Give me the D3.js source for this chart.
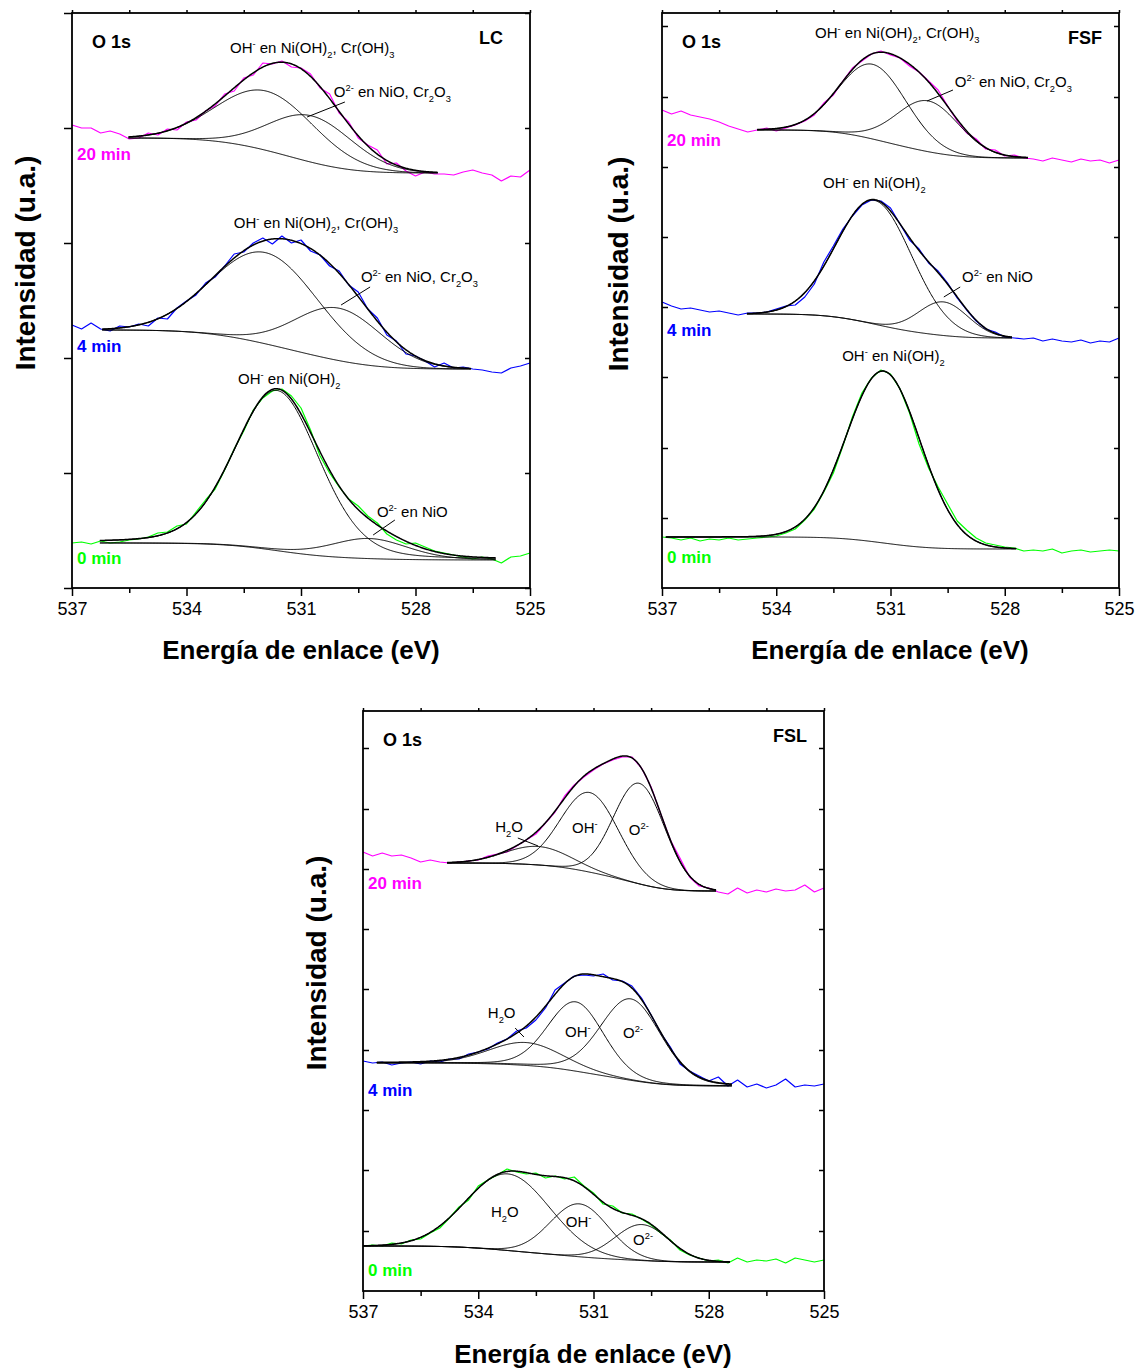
<!DOCTYPE html>
<html>
<head>
<meta charset="utf-8">
<script src="https://cdn.jsdelivr.net/npm/d3@7"></script>
<style>
  body { margin: 0; background: #fff; }
  svg { display: block; }
</style>
</head>
<body>
<svg id="chart" width="1139" height="1371"></svg>
<script>
// ---------------- data ----------------
// Binding energy axis (eV)
const energyTicks = [537, 534, 531, 528, 525];
const energyMinorTicks = [535.5, 532.5, 529.5, 526.5];
// Measured spectra are sampled from 537 to 525 eV every 0.25 eV
const rawEnergies = d3.range(0, 49).map(i => 537 - i * 0.25);

const timeLabels = ["20 min", "4 min", "0 min"];
const timeColors = ["#ff00ff", "#0000ff", "#00ff00"];

// Unlabelled intensity ticks (arbitrary units)
const lcIntensityTicks = [0, 115, 230, 345, 460, 575];
const fsfIntensityTicks = [70, 140, 211, 281, 351, 421, 491, 562];
const fslIntensityTicks = [60, 121, 181, 241, 302, 362, 422, 482, 543];

// ---- LC : measured O 1s spectra (u.a., stacked)
const lc20 = [463,460,460,455,457,454,449,450,455,453,459,458,466,468,477,482,494,497,510,513,525,524,527,521,520,514,500,494,475,466,450,443,438,424,425,417,412,416,414,414,413,416,418,415,413,407,412,411,418];
const lc4 = [263,259,265,259,257,262,261,264,262,270,269,280,287,293,305,311,322,334,336,345,350,344,352,345,348,337,333,322,317,303,296,279,270,253,247,234,232,227,221,225,220,221,219,218,216,215,220,222,225];
const lc0 = [45,46,44,47,45,46,48,49,51,55,56,62,64,76,88,99,118,139,157,178,190,197,199,192,180,158,132,115,101,89,82,72,65,54,48,44,45,41,37,35,33,31,29,31,29,25,31,32,35];

// ---- FSF
const fsf20 = [478,474,477,473,471,469,466,462,459,456,458,460,457,460,463,467,473,485,493,507,520,527,534,537,533,530,522,516,507,498,482,467,455,449,439,438,432,433,430,429,427,430,428,426,429,427,428,425,428];
const fsf4 = [286,282,279,280,278,276,277,275,273,275,275,276,279,282,283,291,304,326,342,359,372,383,388,387,380,364,348,339,325,317,305,290,278,267,259,256,251,250,249,250,247,249,247,246,248,245,247,246,250];
const fsf0 = [51,50,48,50,47,49,48,50,48,49,50,51,52,55,59,68,79,96,115,142,171,195,210,218,214,199,175,144,120,101,84,67,58,50,45,43,41,40,37,38,37,39,35,37,38,36,37,38,37];

// ---- FSL
const fsl20 = [439,435,438,435,436,433,429,431,429,428,429,430,431,435,437,439,445,451,457,468,479,495,506,514,521,527,531,534,534,523,504,477,451,433,414,405,403,399,397,403,398,401,399,402,400,401,406,399,403];
const fsl4 = [230,228,229,226,228,229,227,230,229,232,232,237,239,242,248,252,260,263,271,283,301,308,315,316,315,317,311,310,305,293,276,258,244,227,220,215,210,214,205,211,204,207,203,206,212,204,206,205,207];
const fsl0 = [45,46,45,48,47,51,52,58,63,73,84,91,105,111,116,122,119,117,118,113,115,112,114,105,98,87,85,78,77,72,66,58,51,41,36,33,30,31,28,33,29,31,30,32,28,33,31,29,31];

// ---- Peak fits: fit window (eV, high -> low), Shirley end levels (high-BE side, low-BE side),
// Lorentzian fraction of the line shape, and components (centre eV, FWHM eV, height above background)
const lc20Range = [535.52, 527.42], lc20Background = [450, 415], lc20Mix = 0.0;
const lc20Peaks = [{center: 531.91, fwhm: 3.00, height: 59.3}, {center: 530.72, fwhm: 2.57, height: 46.4}];
const lc4Range = [536.21, 526.55], lc4Background = [258, 219], lc4Mix = 0.0;
const lc4Peaks = [{center: 531.93, fwhm: 3.28, height: 91.2}, {center: 530.01, fwhm: 2.66, height: 52.4}];
const lc0Range = [536.27, 525.9], lc0Background = [45, 28], lc0Mix = 0.2;
const lc0Peaks = [{center: 531.63, fwhm: 2.62, height: 160.2}, {center: 529.21, fwhm: 2.39, height: 20.1}];

const fsf20Range = [534.5, 527.39], fsf20Background = [458, 430], fsf20Mix = 0.02;
const fsf20Peaks = [{center: 531.47, fwhm: 2.09, height: 74.7}, {center: 530.01, fwhm: 1.94, height: 50.8}];
const fsf4Range = [534.77, 527.81], fsf4Background = [274, 250], fsf4Mix = 0.0;
const fsf4Peaks = [{center: 531.42, fwhm: 2.32, height: 123.8}, {center: 529.61, fwhm: 1.54, height: 33.6}];
const fsf0Range = [536.9, 527.7], fsf0Background = [51, 39], fsf0Mix = 0.01;
const fsf0Peaks = [{center: 531.18, fwhm: 2.29, height: 171.9}];

const fsl20Range = [534.81, 527.81], fsl20Background = [428, 400], fsl20Mix = 0.0;
const fsl20Peaks = [{center: 532.44, fwhm: 2.02, height: 18.5}, {center: 531.10, fwhm: 1.77, height: 79.6}, {center: 529.81, fwhm: 1.57, height: 100.6}];
const fsl4Range = [536.64, 527.4], fsl4Background = [228, 205], fsl4Mix = 0.13;
const fsl4Peaks = [{center: 532.76, fwhm: 2.26, height: 22.9}, {center: 531.46, fwhm: 1.71, height: 69.3}, {center: 530.03, fwhm: 1.86, height: 81.4}];
const fsl0Range = [537.0, 527.45], fsl0Background = [45, 29], fsl0Mix = 0.0;
const fsl0Peaks = [{center: 533.23, fwhm: 2.57, height: 76.6}, {center: 531.37, fwhm: 1.78, height: 52.9}, {center: 529.74, fwhm: 1.65, height: 36.0}];

// ---------------- label text ----------------
const OH_FULL = [["OH"], ["-", "sup"], [" en Ni(OH)"], ["2", "sub"], [", Cr(OH)"], ["3", "sub"]];
const O2_FULL = [["O"], ["2-", "sup"], [" en NiO, Cr"], ["2", "sub"], ["O"], ["3", "sub"]];
const OH_NI = [["OH"], ["-", "sup"], [" en Ni(OH)"], ["2", "sub"]];
const O2_NI = [["O"], ["2-", "sup"], [" en NiO"]];
const H2O = [["H"], ["2", "sub"], ["O"]];
const OH = [["OH"], ["-", "sup"]];
const O2 = [["O"], ["2-", "sup"]];

// ---------------- layout ----------------
const panels = [
  {
    name: "LC", left: 72, right: 530, top: 13, bottom: 588, yMax: 575,
    yTicks: lcIntensityTicks, leftTickOut: true,
    yTitle: {x: 35, y: 263}, xTitle: {x: 301, y: 659},
    series: [
      {raw: lc20, range: lc20Range, background: lc20Background, mix: lc20Mix, peaks: lc20Peaks, labelV: 428},
      {raw: lc4, range: lc4Range, background: lc4Background, mix: lc4Mix, peaks: lc4Peaks, labelV: 236},
      {raw: lc0, range: lc0Range, background: lc0Background, mix: lc0Mix, peaks: lc0Peaks, labelV: 24}
    ],
    notes: [
      {parts: OH_FULL, e: 532.86, v: 535},
      {parts: O2_FULL, e: 530.14, v: 491, leader: [[529.85, 486], [530.84, 471]]},
      {parts: OH_FULL, e: 532.76, v: 360},
      {parts: O2_FULL, e: 529.43, v: 306, leader: [[529.19, 301], [529.95, 283]]},
      {parts: OH_NI, e: 532.65, v: 204},
      {parts: O2_NI, e: 529.01, v: 71, leader: [[528.54, 68], [529.11, 53]]}
    ]
  },
  {
    name: "FSF", left: 662, right: 1119, top: 13, bottom: 588, yMax: 575,
    yTicks: fsfIntensityTicks, leftTickOut: false,
    yTitle: {x: 628, y: 264}, xTitle: {x: 890, y: 659},
    series: [
      {raw: fsf20, range: fsf20Range, background: fsf20Background, mix: fsf20Mix, peaks: fsf20Peaks, labelV: 442},
      {raw: fsf4, range: fsf4Range, background: fsf4Background, mix: fsf4Mix, peaks: fsf4Peaks, labelV: 252},
      {raw: fsf0, range: fsf0Range, background: fsf0Background, mix: fsf0Mix, peaks: fsf0Peaks, labelV: 25}
    ],
    notes: [
      {parts: OH_FULL, e: 532.98, v: 550},
      {parts: O2_FULL, e: 529.31, v: 501, leader: [[529.36, 498], [530.04, 487]]},
      {parts: OH_NI, e: 532.77, v: 400},
      {parts: O2_NI, e: 529.12, v: 306, leader: [[529.17, 301], [529.6, 291]]},
      {parts: OH_NI, e: 532.27, v: 227}
    ]
  },
  {
    name: "FSL", left: 363, right: 824, top: 711, bottom: 1291, yMax: 580,
    yTicks: fslIntensityTicks, leftTickOut: false,
    yTitle: {x: 326, y: 963}, xTitle: {x: 593, y: 1363},
    series: [
      {raw: fsl20, range: fsl20Range, background: fsl20Background, mix: fsl20Mix, peaks: fsl20Peaks, labelV: 402},
      {raw: fsl4, range: fsl4Range, background: fsl4Background, mix: fsl4Mix, peaks: fsl4Peaks, labelV: 195},
      {raw: fsl0, range: fsl0Range, background: fsl0Background, mix: fsl0Mix, peaks: fsl0Peaks, labelV: 15}
    ],
    notes: [
      {parts: H2O, e: 533.56, v: 459, leader: [[532.97, 453], [532.44, 445]]},
      {parts: OH, e: 531.56, v: 458},
      {parts: O2, e: 530.08, v: 456},
      {parts: H2O, e: 533.75, v: 273, leader: [[533.04, 263], [532.81, 254]]},
      {parts: OH, e: 531.74, v: 254},
      {parts: O2, e: 530.23, v: 253},
      {parts: H2O, e: 533.67, v: 74},
      {parts: OH, e: 531.72, v: 64},
      {parts: O2, e: 529.97, v: 46}
    ]
  }
];

const SANS = "'Liberation Sans', Arial, Helvetica, sans-serif";

// ---------------- fit model ----------------
// Pseudo-Voigt line shape
function profile(e, p, mix) {
  const sigma = p.fwhm / 2.35482;
  const g = Math.exp(-0.5 * ((e - p.center) / sigma) ** 2);
  const l = 1 / (1 + ((e - p.center) / (p.fwhm / 2)) ** 2);
  return p.height * ((1 - mix) * g + mix * l);
}

// Components on a Shirley background over the fit window
function fitCurves(range, ends, peaks, mix) {
  const n = Math.round((range[0] - range[1]) / 0.02);
  const es = d3.range(n + 1).map(i => range[0] - i * (range[0] - range[1]) / n);
  const comps = peaks.map(p => es.map(e => profile(e, p, mix)));
  const total = es.map((e, i) => d3.sum(comps, c => c[i]));
  const cum = new Array(es.length).fill(0);
  for (let i = es.length - 2; i >= 0; i--) cum[i] = cum[i + 1] + (total[i] + total[i + 1]) / 2;
  const area = cum[0] || 1;
  const bg = es.map((e, i) => ends[1] + (ends[0] - ends[1]) * cum[i] / area);
  return {
    bg: es.map((e, i) => [e, bg[i]]),
    comps: comps.map(c => es.map((e, i) => [e, c[i] + bg[i]])),
    env: es.map((e, i) => [e, total[i] + bg[i]])
  };
}

// Text with sub/superscripts
function richText(g, x, y, parts, size, family) {
  const t = g.append("text")
    .attr("x", x).attr("y", y)
    .attr("font-family", family).attr("font-size", size).attr("fill", "#000");
  let cur = 0;
  parts.forEach(([s, kind]) => {
    const off = kind === "sup" ? -0.42 * size : kind === "sub" ? 0.3 * size : 0;
    t.append("tspan")
      .attr("dy", off - cur)
      .attr("font-size", kind ? size * 0.62 : size)
      .text(s);
    cur = off;
  });
  return t;
}

// ---------------- drawing ----------------
const svg = d3.select("#chart");
svg.append("rect").attr("width", 1139).attr("height", 1371).attr("fill", "#fff");

panels.forEach(P => {
  const x = d3.scaleLinear().domain([537, 525]).range([P.left, P.right]);
  const y = d3.scaleLinear().domain([0, P.yMax]).range([P.bottom, P.top]);
  const line = d3.line().x(d => x(d[0])).y(d => y(d[1]));
  const g = svg.append("g");

  // measured spectra
  P.series.forEach((s, k) => {
    g.append("path")
      .datum(rawEnergies.map((e, i) => [e, s.raw[i]]))
      .attr("d", line).attr("fill", "none")
      .attr("stroke", timeColors[k]).attr("stroke-width", 1.2)
      .attr("stroke-linejoin", "round");
  });

  // fitted components, background and envelope
  P.series.forEach(s => {
    const f = fitCurves(s.range, s.background, s.peaks, s.mix);
    g.append("path").datum(f.bg).attr("d", line)
      .attr("fill", "none").attr("stroke", "#000").attr("stroke-width", 1);
    f.comps.forEach(c => {
      g.append("path").datum(c).attr("d", line)
        .attr("fill", "none").attr("stroke", "#000").attr("stroke-width", 1);
    });
    g.append("path").datum(f.env).attr("d", line)
      .attr("fill", "none").attr("stroke", "#000").attr("stroke-width", 1.5);
  });

  // axes
  const bottomMajor = g.append("g").attr("transform", `translate(0,${P.bottom})`)
    .call(d3.axisBottom(x).tickValues(energyTicks).tickFormat(d3.format("d")).tickSize(8).tickPadding(6));
  bottomMajor.selectAll("text").attr("font-family", SANS).attr("font-size", 18).attr("fill", "#000");
  g.append("g").attr("transform", `translate(0,${P.bottom})`)
    .call(d3.axisBottom(x).tickValues(energyMinorTicks).tickFormat("").tickSize(5));
  g.append("g").attr("transform", `translate(0,${P.top})`)
    .call(d3.axisTop(x).tickValues(energyTicks.concat(energyMinorTicks)).tickFormat("").tickSize(3));
  g.append("g").attr("transform", `translate(${P.left},0)`)
    .call(d3.axisLeft(y).tickValues(P.yTicks).tickFormat("").tickSize(P.leftTickOut ? 8 : -6));
  g.append("g").attr("transform", `translate(${P.right},0)`)
    .call(d3.axisRight(y).tickValues(P.yTicks).tickFormat("").tickSize(-5));
  g.selectAll(".domain").remove();
  g.selectAll(".tick line").attr("stroke", "#000").attr("stroke-width", 1.5);

  g.append("rect")
    .attr("x", P.left).attr("y", P.top)
    .attr("width", P.right - P.left).attr("height", P.bottom - P.top)
    .attr("fill", "none").attr("stroke", "#000").attr("stroke-width", 1.8);

  // titles
  g.append("text")
    .attr("x", P.xTitle.x).attr("y", P.xTitle.y)
    .attr("text-anchor", "middle").attr("font-family", SANS)
    .attr("font-weight", "bold").attr("font-size", 26)
    .text("Energía de enlace (eV)");
  g.append("text")
    .attr("transform", `translate(${P.yTitle.x},${P.yTitle.y}) rotate(-90)`)
    .attr("text-anchor", "middle").attr("font-family", SANS)
    .attr("font-weight", "bold").attr("font-size", 28)
    .text("Intensidad (u.a.)");

  g.append("text")
    .attr("x", P.left + 20).attr("y", P.top + 35)
    .attr("font-family", SANS).attr("font-weight", "bold").attr("font-size", 18)
    .text("O 1s");
  g.append("text")
    .attr("x", P.right - 51).attr("y", P.top + 31)
    .attr("font-family", SANS).attr("font-weight", "bold").attr("font-size", 18)
    .text(P.name);

  // time labels
  P.series.forEach((s, k) => {
    g.append("text")
      .attr("x", P.left + 5).attr("y", y(s.labelV))
      .attr("font-family", SANS).attr("font-weight", "bold").attr("font-size", 17)
      .attr("fill", timeColors[k])
      .text(timeLabels[k]);
  });

  // component labels
  P.notes.forEach(n => {
    richText(g, x(n.e), y(n.v), n.parts, 15, SANS);
    if (n.leader) {
      g.append("line")
        .attr("x1", x(n.leader[0][0])).attr("y1", y(n.leader[0][1]))
        .attr("x2", x(n.leader[1][0])).attr("y2", y(n.leader[1][1]))
        .attr("stroke", "#000").attr("stroke-width", 1);
    }
  });
});
</script>
</body>
</html>
